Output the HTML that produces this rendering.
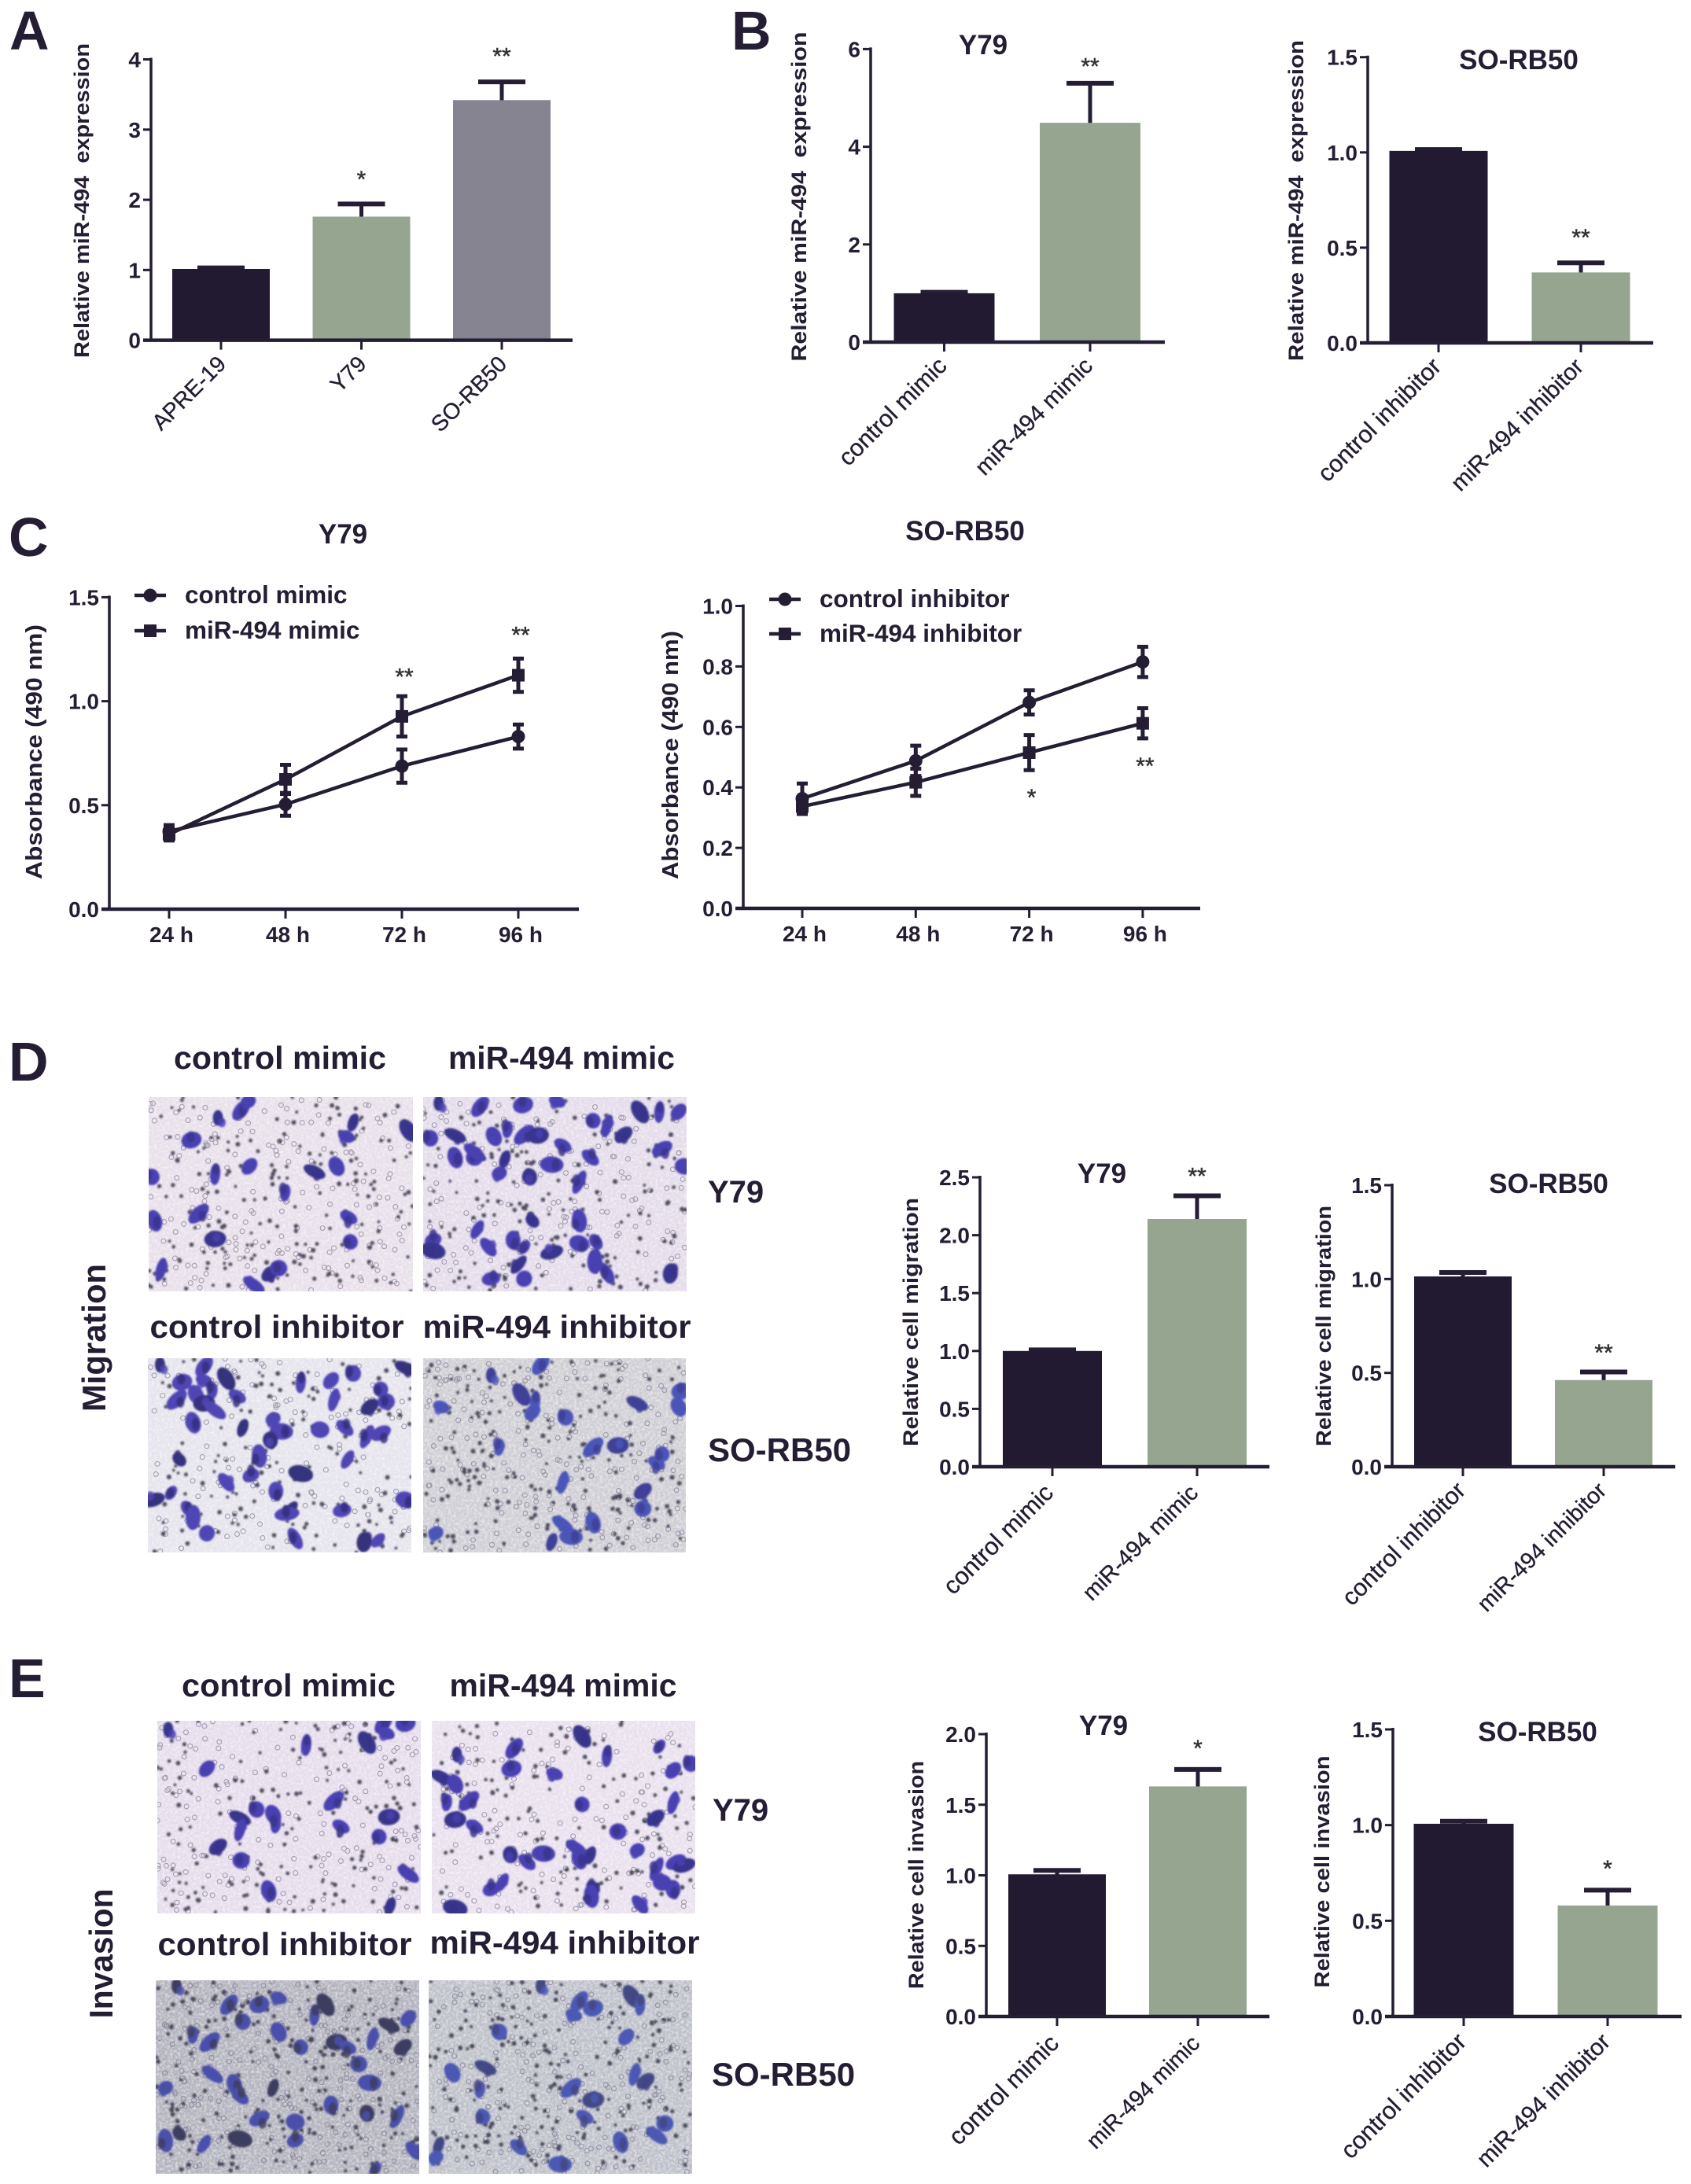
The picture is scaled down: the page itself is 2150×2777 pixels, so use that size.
<!DOCTYPE html>
<html lang="en">
<head>
<meta charset="utf-8">
<title>miR-494 figure</title>
<style>
html,body{margin:0;padding:0;background:#fff;}
svg{display:block;}
text{font-family:"Liberation Sans",sans-serif;fill:#241d33;}
.bold{font-weight:bold;}
</style>
</head>
<body>
<svg id="figure" xmlns="http://www.w3.org/2000/svg" width="2150" height="2777" viewBox="0 0 2150 2777">
<defs>
<filter id="soft" x="-5%" y="-5%" width="110%" height="110%"><feGaussianBlur stdDeviation="1.1"/></filter>
<filter id="grain" x="0" y="0" width="100%" height="100%"><feTurbulence type="fractalNoise" baseFrequency="0.3" numOctaves="2" seed="4"/><feColorMatrix type="matrix" values="0 0 0 0 1  0 0 0 0 1  0 0 0 0 1  2.2 0 0 0 -0.85"/></filter>
</defs>
<rect width="2150" height="2777" fill="#fff"/>

<text class="bold" x="12" y="63" font-size="70">A</text>
<text class="bold" x="930" y="63" font-size="70">B</text>
<text class="bold" x="11" y="707" font-size="70">C</text>
<text class="bold" x="11" y="1374" font-size="70">D</text>
<text class="bold" x="11" y="2158" font-size="70">E</text>

<text class="bold" x="1250" y="69" font-size="35" text-anchor="middle">Y79</text>
<text class="bold" x="1931" y="88" font-size="35" text-anchor="middle">SO-RB50</text>
<text class="bold" x="436" y="691" font-size="35" text-anchor="middle">Y79</text>
<text class="bold" x="1227" y="687" font-size="35" text-anchor="middle">SO-RB50</text>
<text class="bold" x="1401" y="1504" font-size="35" text-anchor="middle">Y79</text>
<text class="bold" x="1969" y="1517" font-size="35" text-anchor="middle">SO-RB50</text>
<text class="bold" x="1403" y="2206" font-size="35" text-anchor="middle">Y79</text>
<text class="bold" x="1955" y="2214" font-size="35" text-anchor="middle">SO-RB50</text>

<text class="bold" font-size="27" text-anchor="middle" textLength="400" lengthAdjust="spacingAndGlyphs" transform="translate(113,255) rotate(-90)" xml:space="preserve">Relative miR-494  expression</text>
<text class="bold" font-size="27" text-anchor="middle" textLength="419" lengthAdjust="spacingAndGlyphs" transform="translate(1025,250) rotate(-90)" xml:space="preserve">Relative miR-494  expression</text>
<text class="bold" font-size="27" text-anchor="middle" textLength="408" lengthAdjust="spacingAndGlyphs" transform="translate(1657,255) rotate(-90)" xml:space="preserve">Relative miR-494  expression</text>
<text class="bold" font-size="29" text-anchor="middle" textLength="324" lengthAdjust="spacingAndGlyphs" transform="translate(53,956) rotate(-90)">Absorbance (490 nm)</text>
<text class="bold" font-size="29" text-anchor="middle" textLength="316" lengthAdjust="spacingAndGlyphs" transform="translate(862,960) rotate(-90)">Absorbance (490 nm)</text>
<text class="bold" font-size="27" text-anchor="middle" textLength="316" lengthAdjust="spacingAndGlyphs" transform="translate(1167,1681) rotate(-90)">Relative cell migration</text>
<text class="bold" font-size="27" text-anchor="middle" textLength="306" lengthAdjust="spacingAndGlyphs" transform="translate(1692,1686) rotate(-90)">Relative cell migration</text>
<text class="bold" font-size="27" text-anchor="middle" textLength="290" lengthAdjust="spacingAndGlyphs" transform="translate(1174,2384) rotate(-90)">Relative cell invasion</text>
<text class="bold" font-size="27" text-anchor="middle" textLength="295" lengthAdjust="spacingAndGlyphs" transform="translate(1690,2380) rotate(-90)">Relative cell invasion</text>

<text class="bold" x="356" y="1359" font-size="41" text-anchor="middle" textLength="270" lengthAdjust="spacingAndGlyphs">control mimic</text>
<text class="bold" x="714" y="1359" font-size="41" text-anchor="middle" textLength="288" lengthAdjust="spacingAndGlyphs">miR-494 mimic</text>
<text class="bold" x="352" y="1701" font-size="41" text-anchor="middle" textLength="323" lengthAdjust="spacingAndGlyphs">control inhibitor</text>
<text class="bold" x="708" y="1701" font-size="41" text-anchor="middle" textLength="341" lengthAdjust="spacingAndGlyphs">miR-494 inhibitor</text>
<text class="bold" x="900" y="1529" font-size="40">Y79</text>
<text class="bold" x="900" y="1858" font-size="42">SO-RB50</text>
<text class="bold" font-size="42" text-anchor="middle" textLength="188" lengthAdjust="spacingAndGlyphs" transform="translate(134,1701) rotate(-90)">Migration</text>

<text class="bold" x="367" y="2157" font-size="41" text-anchor="middle" textLength="272" lengthAdjust="spacingAndGlyphs">control mimic</text>
<text class="bold" x="716" y="2157" font-size="41" text-anchor="middle" textLength="289" lengthAdjust="spacingAndGlyphs">miR-494 mimic</text>
<text class="bold" x="362" y="2486" font-size="41" text-anchor="middle" textLength="323" lengthAdjust="spacingAndGlyphs">control inhibitor</text>
<text class="bold" x="718" y="2484" font-size="41" text-anchor="middle" textLength="343" lengthAdjust="spacingAndGlyphs">miR-494 inhibitor</text>
<text class="bold" x="906" y="2315" font-size="40">Y79</text>
<text class="bold" x="905" y="2652" font-size="42">SO-RB50</text>
<text class="bold" font-size="42" text-anchor="middle" textLength="165" lengthAdjust="spacingAndGlyphs" transform="translate(143,2484) rotate(-90)">Invasion</text>
</svg>

<script>
/* ---------- Chart data ---------- */
const aCategories = ['APRE-19', 'Y79', 'SO-RB50'];
const aValues = [1.015, 1.76, 3.42];
const aErrorTops = [1.03, 1.94, 3.68];
const aTicks = [0, 1, 2, 3, 4];
const aTickLabels = ['0', '1', '2', '3', '4'];
const aStars = ['', '*', '**'];
const aStarLevels = [0, 2.336, 4.09];

const mimicCategories = ['control mimic', 'miR-494 mimic'];
const inhibitorCategories = ['control inhibitor', 'miR-494 inhibitor'];

const bY79Values = [1.0, 4.49];
const bY79ErrorTops = [1.02, 5.3];
const bY79Ticks = [0, 2, 4, 6];
const bY79TickLabels = ['0', '2', '4', '6'];
const bY79Stars = ['', '**'];
const bY79StarLevels = [0, 5.71];

const bSoValues = [1.008, 0.37];
const bSoErrorTops = [1.015, 0.42];
const bSoTicks = [0, 0.5, 1, 1.5];
const bSoTickLabels = ['0.0', '0.5', '1.0', '1.5'];
const bSoStars = ['', '**'];
const bSoStarLevels = [0, 0.57];

const dY79Values = [1.0, 2.14];
const dY79ErrorTops = [1.01, 2.34];
const dY79Ticks = [0, 0.5, 1, 1.5, 2, 2.5];
const dY79TickLabels = ['0.0', '0.5', '1.0', '1.5', '2.0', '2.5'];
const dY79Stars = ['', '**'];
const dY79StarLevels = [0, 2.537];

const dSoValues = [1.014, 0.462];
const dSoErrorTops = [1.035, 0.505];
const dSoTicks = [0, 0.5, 1, 1.5];
const dSoTickLabels = ['0.0', '0.5', '1.0', '1.5'];
const dSoStars = ['', '**'];
const dSoStarLevels = [0, 0.624];

const eY79Values = [1.007, 1.63];
const eY79ErrorTops = [1.035, 1.75];
const eY79Ticks = [0, 0.5, 1, 1.5, 2];
const eY79TickLabels = ['0.0', '0.5', '1.0', '1.5', '2.0'];
const eY79Stars = ['', '*'];
const eY79StarLevels = [0, 1.922];

const eSoValues = [1.007, 0.58];
const eSoErrorTops = [1.02, 0.66];
const eSoTicks = [0, 0.5, 1, 1.5];
const eSoTickLabels = ['0.0', '0.5', '1.0', '1.5'];
const eSoStars = ['', '*'];
const eSoStarLevels = [0, 0.79];

const timeLabels = ['24 h', '48 h', '72 h', '96 h'];

const c1ControlNames = 'control mimic';
const c1TreatedNames = 'miR-494 mimic';
const c1Control = [0.374, 0.504, 0.688, 0.83];
const c1ControlErr = [0.03, 0.055, 0.08, 0.058];
const c1Treated = [0.36, 0.624, 0.927, 1.125];
const c1TreatedErr = [0.03, 0.07, 0.097, 0.08];
const c1Ticks = [0, 0.5, 1, 1.5];
const c1TickLabels = ['0.0', '0.5', '1.0', '1.5'];
const c1Stars = ['', '', '**', '**'];
const c1StarLevels = [0, 0, 1.133, 1.334];

const c2ControlNames = 'control inhibitor';
const c2TreatedNames = 'miR-494 inhibitor';
const c2Control = [0.363, 0.488, 0.681, 0.815];
const c2ControlErr = [0.05, 0.05, 0.04, 0.05];
const c2Treated = [0.337, 0.417, 0.515, 0.612];
const c2TreatedErr = [0.025, 0.045, 0.058, 0.05];
const c2Ticks = [0, 0.2, 0.4, 0.6, 0.8, 1];
const c2TickLabels = ['0.0', '0.2', '0.4', '0.6', '0.8', '1.0'];
const c2Stars = ['', '', '*', '**'];
const c2StarLevels = [0, 0, 0.377, 0.481];

/* ---------- Micrograph cell sketches (reference zoom coordinates) ---------- */
const cellsD1 = [395,272,437,250,347,335,628,325,740,308,390,432,452,410,275,440,570,425,610,410,517,485,360,545,390,617,632,555,635,625,292,703,490,715,505,700,460,748,280,565,640,285,450,225];
const cellsD2 = [795,230,870,240,948,235,1010,225,1160,255,1195,255,1230,255,780,330,825,322,895,325,920,305,950,320,975,322,1020,350,1075,280,1100,295,1130,320,860,385,860,370,825,385,915,390,905,430,1000,405,1070,385,960,440,1050,455,1200,360,1240,410,965,565,1050,565,865,590,785,620,785,650,885,640,930,620,950,640,1000,655,1050,630,1080,625,1078,680,940,690,890,730,950,730,1100,715,1215,715];
const cellsD3 = [290,975,370,980,330,1025,370,1020,410,1015,545,1025,600,1020,640,1000,735,985,355,1060,385,1050,320,1075,370,1085,430,1065,690,1045,605,1075,670,1095,700,1080,390,1105,350,1140,440,1155,495,1130,510,1165,625,1155,490,1190,665,1180,690,1170,580,1160,325,1245,470,1235,630,1245,455,1290,545,1285,410,1310,500,1335,310,1340,278,1360,735,1360,340,1385,350,1410,525,1390,620,1390,375,1455,535,1470,660,1480,685,1475,520,1400];
const cellsD4 = [890,1005,980,975,1235,1050,800,1095,945,1060,970,1080,965,1110,1025,1125,1155,1085,1230,1095,905,1210,1075,1210,1120,1205,1190,1255,1200,1230,1020,1310,1165,1335,1165,1385,1020,1430,1075,1425,1000,1480,790,1455,1035,1465];
const cellsE1 = [305,230,695,212,735,212,700,240,665,268,555,275,375,345,465,465,435,490,495,480,500,510,605,440,705,487,618,515,687,545,435,525,395,575,437,615,740,655,487,705,707,750];
const cellsE2 = [828,303,932,285,927,345,1005,360,1055,250,1100,308,1220,350,1252,330,800,370,825,390,810,445,850,440,825,495,860,515,1055,450,1220,445,1188,490,1120,530,1045,580,1050,610,1070,600,1155,585,985,595,955,620,925,598,1190,640,1225,620,1200,680,1075,695,1072,720,910,680,890,700,825,755,1160,745,1220,700,1195,280,1240,630];
const cellsE3 = [320,985,415,1040,470,1040,505,1020,590,1040,570,1070,740,1080,440,1090,705,1100,505,1120,350,1130,380,1150,610,1150,630,1165,545,1165,675,1140,730,1165,650,1215,385,1245,425,1275,495,1285,300,1285,670,1270,435,1310,665,1360,720,1370,470,1375,535,1385,325,1420,300,1440,370,1450,535,1440,435,1435,750,1470,600,1335,680,1525];
const cellsE4 = [980,985,1050,1030,1075,1050,1040,1070,1145,1015,1160,1040,1135,1135,905,1120,880,1225,820,1240,870,1290,1035,1285,1075,1320,1060,1370,875,1370,1150,1245,1170,1265,1205,1390,1190,1425,1125,1445,795,1455,790,1490,1015,1510,940,1460];

/* ---------- Helpers ---------- */
const NS = 'http://www.w3.org/2000/svg';
const INK = '#241d33';
const BAR_DARK = '#221a30';
const BAR_GREEN = '#95a590';
const BAR_GREY = '#858490';
const figure = document.getElementById('figure');

function mk(parent, tag, attrs) {
  const el = document.createElementNS(NS, tag);
  for (const k in attrs) el.setAttribute(k, attrs[k]);
  parent.appendChild(el);
  return el;
}

function makeYScale(ticks, y0, yTop) {
  const lo = ticks[0];
  const hi = ticks[ticks.length - 1];
  return function (v) { return y0 - (v - lo) / (hi - lo) * (y0 - yTop); };
}

function drawYAxis(g, ticks, labels, yScale, L) {
  const axis = mk(g, 'line', {x1: L.axisX, x2: L.axisX, y1: yScale(ticks[ticks.length - 1]) - 2, y2: L.y0, stroke: INK, 'stroke-width': 3.5});
  
  
  ticks.forEach(function (t, i) {
    const tick = mk(g, 'line', {x1: L.axisX - 10, x2: L.axisX, y1: yScale(t), y2: yScale(t), stroke: INK, 'stroke-width': 3});
    
    
    const label = mk(g, 'text', {x: L.axisX - 13, y: yScale(t) + 10, 'font-size': 28, 'font-weight': 'bold', 'text-anchor': 'end'});
    
    
    label.textContent = labels[i];
  });
  const base = mk(g, 'line', {x1: L.axisX - 10, x2: L.xEnd, y1: L.y0, y2: L.y0, stroke: INK, 'stroke-width': 4.5});
  
  
}

function drawStar(g, text, x, y) {
  if (!text) return;
  const star = mk(g, 'text', {x: x, y: y + 14, 'font-size': 30, 'text-anchor': 'middle', stroke: '#333', 'stroke-width': 0.5, style: 'fill:#333'});
  
  
  star.textContent = text;
}

function drawBarChart(name, cats, values, errTops, ticks, tickLabels, stars, starLevels, colors, L) {
  const g = mk(figure, 'g', {});
  
  
  const yScale = makeYScale(ticks, L.y0, L.yTop);
  const xScale = function (i) { return L.c0 + i * L.step; };
  values.forEach(function (v, i) {
    const cx = xScale(i);
    const stem = mk(g, 'line', {x1: cx, x2: cx, y1: yScale(errTops[i]), y2: yScale(v) + 2, stroke: INK, 'stroke-width': 5});
    
    
    const cap = mk(g, 'line', {x1: cx - 30, x2: cx + 30, y1: yScale(errTops[i]), y2: yScale(errTops[i]), stroke: INK, 'stroke-width': 6});
    
    
    const bar = mk(g, 'rect', {x: cx - L.barW / 2, y: yScale(v), width: L.barW, height: L.y0 - yScale(v), fill: colors[i]});
    
    
    const tick = mk(g, 'line', {x1: cx, x2: cx, y1: L.y0, y2: L.y0 + 12, stroke: INK, 'stroke-width': 3});
    
    
    const lx = cx + 8 + L.labelDx;
    const ly = L.y0 + 32 + L.labelDy;
    const size = i === 0 ? L.labelSize : (L.labelSizeAlt || L.labelSize);
    const label = mk(g, 'text', {x: lx, y: ly, 'font-size': size, 'text-anchor': 'end', transform: 'rotate(-45 ' + lx + ' ' + ly + ')', stroke: INK, 'stroke-width': 0.35});
    
    
    label.textContent = cats[i];
    drawStar(g, stars[i], cx, yScale(starLevels[i]));
  });
  drawYAxis(g, ticks, tickLabels, yScale, L);
}

function drawMarker(g, shape, x, y) {
  let m;
  if (shape === 'circle') {
    m = mk(g, 'circle', {cx: x, cy: y, r: 8.5, fill: INK});
  } else {
    m = mk(g, 'rect', {x: x - 8, y: y - 8, width: 16, height: 16, fill: INK});
  }
  
  
}

function drawSeries(g, vals, errs, xScale, yScale, shape) {
  const pts = vals.map(function (v, i) { return xScale(i) + ',' + yScale(v); }).join(' ');
  const line = mk(g, 'polyline', {points: pts, fill: 'none', stroke: INK, 'stroke-width': 4.5});
  
  
  vals.forEach(function (v, i) {
    const x = xScale(i);
    const top = yScale(v + errs[i]);
    const bot = yScale(v - errs[i]);
    const err = mk(g, 'path', {d: 'M' + (x - 7) + ' ' + top + 'H' + (x + 7) + 'M' + x + ' ' + top + 'V' + bot + 'M' + (x - 7) + ' ' + bot + 'H' + (x + 7), fill: 'none', stroke: INK, 'stroke-width': 5});
    
    
    drawMarker(g, shape, x, yScale(v));
  });
}

function drawLegendEntry(g, text, shape, L, y) {
  const line = mk(g, 'line', {x1: L.legendX - 20, x2: L.legendX + 20, y1: y, y2: y, stroke: INK, 'stroke-width': 4.5});
  
  
  drawMarker(g, shape, L.legendX, y);
  const label = mk(g, 'text', {x: L.legendX + 44, y: y + 10, 'font-size': 31.5, 'font-weight': 'bold'});
  
  
  label.textContent = text;
}

function drawLineChart(name, labels, control, controlErr, treated, treatedErr, ticks, tickLabels, stars, starLevels, controlName, treatedName, L) {
  const g = mk(figure, 'g', {});
  
  
  const yScale = makeYScale(ticks, L.y0, L.yTop);
  const xScale = function (i) { return L.c0 + i * L.step; };
  drawYAxis(g, ticks, tickLabels, yScale, L);
  labels.forEach(function (t, i) {
    const tick = mk(g, 'line', {x1: xScale(i), x2: xScale(i), y1: L.y0, y2: L.y0 + 12, stroke: INK, 'stroke-width': 3});
    
    
    const label = mk(g, 'text', {x: xScale(i) + 3, y: L.y0 + 42, 'font-size': 28, 'font-weight': 'bold', 'text-anchor': 'middle'});
    
    
    label.textContent = t;
    drawStar(g, stars[i], xScale(i) + 3, yScale(starLevels[i]));
  });
  drawSeries(g, control, controlErr, xScale, yScale, 'circle');
  drawSeries(g, treated, treatedErr, xScale, yScale, 'square');
  drawLegendEntry(g, controlName, 'circle', L, L.legendY1);
  drawLegendEntry(g, treatedName, 'square', L, L.legendY2);
}

function drawMicrograph(name, R, bg, cells, cellFill, shadeFill, Z, seed, poreCount) {
  const clip = mk(figure, 'clipPath', {id: 'clip-' + name});
  mk(clip, 'rect', {x: R.x, y: R.y, width: R.w, height: R.h});
  const g = mk(figure, 'g', {'clip-path': 'url(#clip-' + name + ')'});
  
  
  const back = mk(g, 'rect', {x: R.x, y: R.y, width: R.w, height: R.h, fill: bg});
  
  
  const grain = mk(g, 'rect', {x: R.x, y: R.y, width: R.w, height: R.h, filter: 'url(#grain)', opacity: 0.55});
  
  
  let s = seed;
  function next() { s = (s * 16807) % 2147483647; return s / 2147483647; }
  let d = '';
  let ring = '';
  for (let k = 0; k < poreCount; k++) {
    const px = +(R.x + next() * R.w).toFixed(1);
    const py = +(R.y + next() * R.h).toFixed(1);
    const r = 1.9 + next() * 1.2;
    d += 'M' + (px - r) + ' ' + py + 'a' + r + ' ' + r + ' 0 1 0 ' + 2 * r + ' 0a' + r + ' ' + r + ' 0 1 0 ' + (-2 * r) + ' 0';
    const qx = +(R.x + next() * R.w).toFixed(1);
    const qy = +(R.y + next() * R.h).toFixed(1);
    ring += 'M' + (qx - 3) + ' ' + qy + 'a3 3 0 1 0 6 0a3 3 0 1 0 -6 0';
  }
  const rings = mk(g, 'path', {d: ring, fill: 'none', stroke: '#77728a', 'stroke-width': 1.1, opacity: 0.6});
  
  
  const pores = mk(g, 'path', {d: d, fill: '#2c2a3c', opacity: 0.8, filter: 'url(#soft)'});
  
  
  const blobs = mk(g, 'g', {filter: 'url(#soft)'});
  
  
  for (let i = 0; i < cells.length; i += 2) {
    const cx = cells[i] / Z.sx;
    const cy = Z.oy + cells[i + 1] / Z.sy;
    const n = i / 2;
    const angle = (n * 37) % 180;
    const cell = mk(blobs, 'ellipse', {cx: cx, cy: cy, rx: 6.5 + (n * 7) % 5, ry: 10 + (n * 5) % 7, fill: n % 4 === 0 ? shadeFill : cellFill, transform: 'rotate(' + angle + ' ' + cx + ' ' + cy + ')'});
    
    
    const lobe = mk(blobs, 'ellipse', {cx: cx + 5 - (n * 3) % 11, cy: cy + 6 - (n * 5) % 13, rx: 5 + (n * 3) % 3, ry: 6 + (n * 2) % 3, fill: n % 3 === 0 ? cellFill : shadeFill, opacity: 0.85});
    
    
  }
}

/* ---------- Render ---------- */
drawBarChart('bar-chart-a-expression', aCategories, aValues, aErrorTops, aTicks, aTickLabels, aStars, aStarLevels, [BAR_DARK, BAR_GREEN, BAR_GREY],
  {axisX: 192, y0: 432.6, yTop: 75.5, xEnd: 728, c0: 281, step: 178.5, barW: 124, labelSize: 28.5, labelDx: 0, labelDy: 0});
drawBarChart('bar-chart-b-y79', mimicCategories, bY79Values, bY79ErrorTops, bY79Ticks, bY79TickLabels, bY79Stars, bY79StarLevels, [BAR_DARK, BAR_GREEN],
  {axisX: 1107, y0: 435, yTop: 62.4, xEnd: 1481, c0: 1200.5, step: 185.5, barW: 128, labelSize: 30.5, labelSizeAlt: 29.5, labelDx: -3, labelDy: 0});
drawBarChart('bar-chart-b-so-rb50', inhibitorCategories, bSoValues, bSoErrorTops, bSoTicks, bSoTickLabels, bSoStars, bSoStarLevels, [BAR_DARK, BAR_GREEN],
  {axisX: 1739, y0: 436, yTop: 72.7, xEnd: 2102, c0: 1829, step: 181, barW: 125, labelSize: 30.5, labelSizeAlt: 29.6, labelDx: -3, labelDy: 0});
drawLineChart('line-chart-c-y79', timeLabels, c1Control, c1ControlErr, c1Treated, c1TreatedErr, c1Ticks, c1TickLabels, c1Stars, c1StarLevels, c1ControlNames, c1TreatedNames,
  {axisX: 139, y0: 1156, yTop: 759.4, xEnd: 736, c0: 215, step: 148, legendX: 191, legendY1: 757, legendY2: 802});
drawLineChart('line-chart-c-so-rb50', timeLabels, c2Control, c2ControlErr, c2Treated, c2TreatedErr, c2Ticks, c2TickLabels, c2Stars, c2StarLevels, c2ControlNames, c2TreatedNames,
  {axisX: 945, y0: 1155, yTop: 770.5, xEnd: 1526, c0: 1020, step: 144.3, legendX: 998, legendY1: 762, legendY2: 806});
drawBarChart('bar-chart-d-y79', mimicCategories, dY79Values, dY79ErrorTops, dY79Ticks, dY79TickLabels, dY79Stars, dY79StarLevels, [BAR_DARK, BAR_GREEN],
  {axisX: 1246, y0: 1865, yTop: 1497, xEnd: 1614, c0: 1338, step: 184, barW: 126, labelSize: 31, labelSizeAlt: 29, labelDx: -5, labelDy: 3});
drawBarChart('bar-chart-d-so-rb50', inhibitorCategories, dSoValues, dSoErrorTops, dSoTicks, dSoTickLabels, dSoStars, dSoStarLevels, [BAR_DARK, BAR_GREEN],
  {axisX: 1770, y0: 1865, yTop: 1507, xEnd: 2130, c0: 1860, step: 179, barW: 124, labelSize: 30.5, labelSizeAlt: 28.8, labelDx: -3, labelDy: 0});
drawBarChart('bar-chart-e-y79', mimicCategories, eY79Values, eY79ErrorTops, eY79Ticks, eY79TickLabels, eY79Stars, eY79StarLevels, [BAR_DARK, BAR_GREEN],
  {axisX: 1254, y0: 2564, yTop: 2205, xEnd: 1614, c0: 1344, step: 179, barW: 124, labelSize: 31, labelSizeAlt: 28.4, labelDx: -4, labelDy: 4});
drawBarChart('bar-chart-e-so-rb50', inhibitorCategories, eSoValues, eSoErrorTops, eSoTicks, eSoTickLabels, eSoStars, eSoStarLevels, [BAR_DARK, BAR_GREEN],
  {axisX: 1771, y0: 2564, yTop: 2199, xEnd: 2138, c0: 1861, step: 183, barW: 127, labelSize: 31, labelSizeAlt: 29.8, labelDx: -3, labelDy: 2});

const zoomD = {sx: 1.4255, sy: 2.24, oy: 1300};
const zoomE = {sx: 1.4255, sy: 2.316, oy: 2100};
drawMicrograph('migration-image-control-mimic', {x: 189, y: 1395, w: 336, h: 247}, '#e8e0ea', cellsD1, '#4a3fb2', '#39348c', zoomD, 1201, 190);
drawMicrograph('migration-image-mir-494-mimic', {x: 538, y: 1395, w: 335, h: 247}, '#e4dcea', cellsD2, '#4a3fb2', '#39348c', zoomD, 2203, 170);
drawMicrograph('migration-image-control-inhibitor', {x: 188, y: 1727, w: 335, h: 247}, '#e6e4ec', cellsD3, '#4f45b4', '#35307e', zoomD, 3307, 150);
drawMicrograph('migration-image-mir-494-inhibitor', {x: 538, y: 1727, w: 334, h: 247}, '#cfced4', cellsD4, '#4c55b8', '#3f4196', zoomD, 4409, 210);
drawMicrograph('invasion-image-control-mimic', {x: 200, y: 2188, w: 335, h: 245}, '#e6ddec', cellsE1, '#4a3fb2', '#39348c', zoomE, 5501, 170);
drawMicrograph('invasion-image-mir-494-mimic', {x: 549, y: 2188, w: 335, h: 245}, '#e9e1ee', cellsE2, '#4a3fb2', '#39348c', zoomE, 6607, 140);
drawMicrograph('invasion-image-control-inhibitor', {x: 198, y: 2518, w: 335, h: 246}, '#b4b4bf', cellsE3, '#4a50aa', '#3e3e60', zoomE, 7703, 210);
drawMicrograph('invasion-image-mir-494-inhibitor', {x: 545, y: 2518, w: 335, h: 246}, '#bfc1ca', cellsE4, '#4c58b4', '#434884', zoomE, 8807, 210);
</script>
</body>
</html>
